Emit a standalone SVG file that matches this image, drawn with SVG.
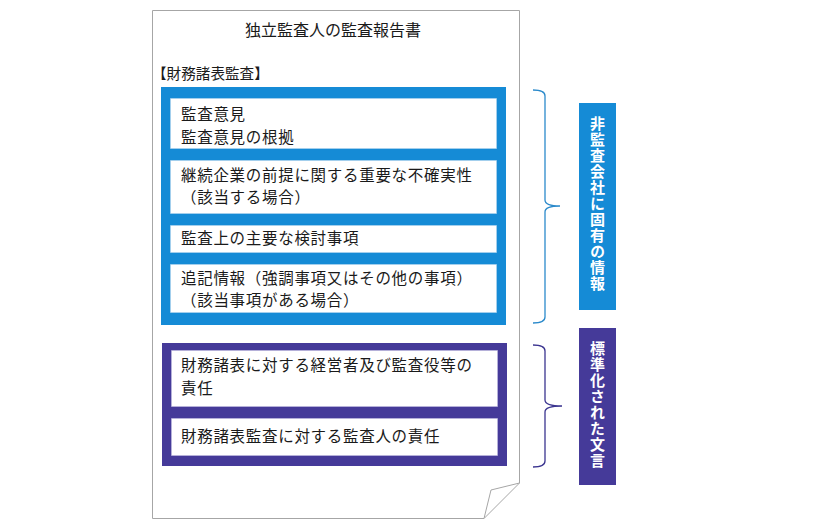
<svg xmlns="http://www.w3.org/2000/svg" width="820" height="530" viewBox="0 0 820 530">
<style>
text{font-family:"Noto Sans CJK JP","Noto Sans CJK SC",sans-serif;fill:#1a1a1a}
.t{font-size:15.5px;letter-spacing:0.7px}
.box{fill:#ffffff;stroke-width:1;stroke-dasharray:1 1}
.bb{stroke:#bcd9ef}
.pb{stroke:#c9c3e6}
.lbl{font-size:15px;font-weight:bold;fill:#ffffff;writing-mode:vertical-rl;text-anchor:start;letter-spacing:1px}
.doc{fill:#ffffff;stroke:#a6a6a6;stroke-width:1}
</style>
<rect width="820" height="530" fill="#ffffff"/>
<g id="document">
<path class="doc" d="M152.5,10.5 H519.5 V483 L484,518.5 H152.5 Z"/>
<path fill="none" stroke="#a6a6a6" stroke-width="1" d="M519.5,483 L491,490 L484,518.5"/>
<text x="333" y="36" text-anchor="middle" style="font-size:16px">独立監査人の監査報告書</text>
<text x="152" y="79" style="font-size:14.6px">【財務諸表監査】</text>
</g>
<g id="group-blue">
<rect x="161" y="87" width="345" height="238" fill="#158bd6"/>
</g>
<g id="node-opinion">
<rect class="box bb" x="170.5" y="98.5" width="326" height="50"/>
<text class="t" x="181" y="120">監査意見</text>
<text class="t" x="181" y="142.5">監査意見の根拠</text>
</g>
<g id="node-going-concern">
<rect class="box bb" x="170.5" y="160.5" width="326" height="53"/>
<text class="t" x="181" y="180.5">継続企業の前提に関する重要な不確実性</text>
<text class="t" x="181" y="203">（該当する場合）</text>
</g>
<g id="node-kam">
<rect class="box bb" x="170.5" y="225.5" width="326" height="27"/>
<text class="t" x="181" y="244">監査上の主要な検討事項</text>
</g>
<g id="node-emphasis">
<rect class="box bb" x="170.5" y="264.5" width="326" height="48"/>
<text class="t" x="181" y="283.5">追記情報（強調事項又はその他の事項）</text>
<text class="t" x="181" y="306">（該当事項がある場合）</text>
</g>
<g id="group-purple">
<rect x="162" y="343" width="345" height="123" fill="#453a99"/>
</g>
<g id="node-management">
<rect class="box pb" x="171.5" y="350.5" width="326" height="56"/>
<text class="t" x="181" y="371">財務諸表に対する経営者及び監査役等の</text>
<text class="t" x="181" y="393.5">責任</text>
</g>
<g id="node-auditor">
<rect class="box pb" x="171.5" y="418.5" width="326" height="37"/>
<text class="t" x="181" y="442">財務諸表監査に対する監査人の責任</text>
</g>
<g id="connectors">
<path fill="none" stroke="#2b8acb" stroke-width="1.3" d="M533,90 Q545,90 545,96 V200 Q545,206 560,206 Q545,206 545,212 V317 Q545,323 533,323"/>
<path fill="none" stroke="#3b3590" stroke-width="1.3" d="M533,345 Q545,345 545,351 V400 Q545,406 562,406 Q545,406 545,412 V461 Q545,467 533,467"/>
</g>
<g id="label-specific">
<rect x="579" y="103" width="37" height="207" fill="#158bd6"/>
<text class="lbl" x="597.5" y="116">非監査会社に固有の情報</text>
</g>
<g id="label-standard">
<rect x="579" y="328" width="37" height="157" fill="#453a99"/>
<text class="lbl" x="597.5" y="341">標準化された文言</text>
</g>
</svg>
